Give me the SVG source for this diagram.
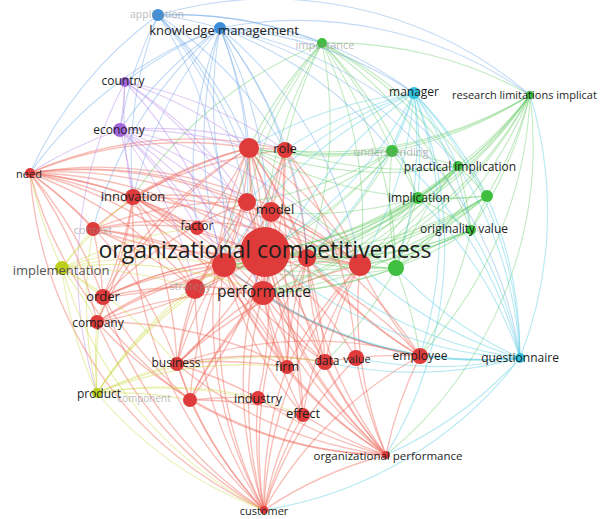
<svg xmlns="http://www.w3.org/2000/svg" width="608" height="519" viewBox="0 0 608 519">
<style>
path{fill:none;stroke-width:1.1;stroke-opacity:0.38}
.r path{stroke:#ef6355;stroke-width:1.35;stroke-opacity:0.42}
.g path{stroke:#5cc95c}
.b path{stroke:#5f9fe4}
.c path{stroke:#3fc6e0}
.p path{stroke:#b07ae6}
.y path{stroke:#c6d42e}
.nr{fill:#df3b3b}
.ng{fill:#3fbf3f}
.nb{fill:#3d8fdb}
.nc{fill:#2ebfdc}
.np{fill:#a266dc}
.ny{fill:#bccf1c}
text{font-family:"Open Sans","Liberation Sans",sans-serif;fill:#1e1e1e;text-anchor:middle;dominant-baseline:central}
.f{fill:#8e8e8e;opacity:0.6}
</style>
<rect width="608" height="519" fill="#ffffff"/>
<g id="connectors">
<g class="r">
<path d="M30 173A400 400 0 0 1 133 197"/><path d="M30 173A400 400 0 0 1 93 229"/><path d="M30 173A400 400 0 0 1 249 148"/><path d="M30 173A400 400 0 0 1 285 150"/><path d="M30 173A400 400 0 0 1 247 202"/><path d="M30 173A400 400 0 0 1 265 252"/><path d="M30 173A400 400 0 0 1 197 228"/><path d="M30 173A400 400 0 0 1 224 265"/><path d="M30 173A400 400 0 0 1 195 289"/><path d="M30 173A400 400 0 0 1 103 297"/><path d="M30 173A400 400 0 0 1 97 322"/><path d="M30 173A400 400 0 0 1 360 265"/><path d="M30 173A400 400 0 0 1 307 258"/><path d="M30 173A400 400 0 0 1 177 364"/><path d="M30 173A400 400 0 0 1 287 367"/><path d="M30 173A400 400 0 0 1 420 356"/><path d="M30 173A400 400 0 0 0 264 510"/><path d="M30 173A400 400 0 0 0 190 400"/>
<path d="M264 510A400 400 0 0 1 177 364"/><path d="M264 510A400 400 0 0 1 190 400"/><path d="M264 510A400 400 0 0 1 258 398"/><path d="M264 510A400 400 0 0 1 303 415"/><path d="M264 510A400 400 0 0 1 265 252"/><path d="M264 510A400 400 0 0 1 224 265"/><path d="M264 510A400 400 0 0 1 263 293"/><path d="M264 510A400 400 0 0 1 103 297"/><path d="M264 510A400 400 0 0 1 97 322"/><path d="M264 510A400 400 0 0 1 287 367"/><path d="M264 510A400 400 0 0 1 325 362"/><path d="M264 510A400 400 0 0 1 356 358"/><path d="M264 510A400 400 0 0 1 420 356"/><path d="M264 510A400 400 0 0 1 386 455"/><path d="M264 510A400 400 0 0 1 360 265"/><path d="M264 510A400 400 0 0 1 195 289"/><path d="M264 510A400 400 0 0 1 249 148"/><path d="M264 510A400 400 0 0 1 133 197"/><path d="M264 510A400 400 0 0 1 307 258"/>
<path d="M386 455A400 400 0 0 1 265 252"/><path d="M386 455A400 400 0 0 1 263 293"/><path d="M386 455A400 400 0 0 1 360 265"/><path d="M386 455A400 400 0 0 1 325 362"/><path d="M386 455A400 400 0 0 1 356 358"/><path d="M386 455A400 400 0 0 1 420 356"/><path d="M386 455A400 400 0 0 1 303 415"/><path d="M386 455A400 400 0 0 1 287 367"/><path d="M386 455A400 400 0 0 1 258 398"/><path d="M386 455A400 400 0 0 1 177 364"/><path d="M386 455A400 400 0 0 1 307 258"/><path d="M386 455A400 400 0 0 1 249 148"/><path d="M386 455A400 400 0 0 1 224 265"/><path d="M386 455A400 400 0 0 1 97 322"/><path d="M386 455A400 400 0 0 1 285 150"/><path d="M386 455A400 400 0 0 1 190 400"/>
<path d="M265 252A400 400 0 0 1 224 265"/><path d="M265 252A400 400 0 0 1 263 293"/><path d="M265 252A400 400 0 0 1 249 148"/><path d="M265 252A400 400 0 0 1 285 150"/><path d="M265 252A400 400 0 0 1 247 202"/><path d="M265 252A400 400 0 0 1 271 212"/><path d="M265 252A400 400 0 0 1 197 228"/><path d="M265 252A400 400 0 0 1 133 197"/><path d="M265 252A400 400 0 0 1 93 229"/><path d="M265 252A400 400 0 0 1 103 297"/><path d="M265 252A400 400 0 0 1 97 322"/><path d="M265 252A400 400 0 0 1 195 289"/><path d="M265 252A400 400 0 0 1 307 258"/><path d="M265 252A400 400 0 0 1 360 265"/><path d="M265 252A400 400 0 0 1 177 364"/><path d="M265 252A400 400 0 0 1 190 400"/><path d="M265 252A400 400 0 0 1 258 398"/><path d="M265 252A400 400 0 0 1 287 367"/><path d="M265 252A400 400 0 0 1 325 362"/><path d="M265 252A400 400 0 0 1 356 358"/><path d="M265 252A400 400 0 0 1 420 356"/><path d="M265 252A400 400 0 0 1 303 415"/>
<path d="M133 197A400 400 0 0 1 249 148"/><path d="M133 197A400 400 0 0 1 247 202"/><path d="M133 197A400 400 0 0 1 224 265"/><path d="M133 197A400 400 0 0 1 263 293"/><path d="M133 197A400 400 0 0 1 195 289"/><path d="M133 197A400 400 0 0 1 103 297"/><path d="M133 197A400 400 0 0 1 97 322"/><path d="M133 197A400 400 0 0 1 177 364"/><path d="M133 197A400 400 0 0 1 307 258"/><path d="M133 197A400 400 0 0 1 360 265"/><path d="M133 197A400 400 0 0 1 287 367"/><path d="M133 197A400 400 0 0 1 285 150"/><path d="M133 197A400 400 0 0 1 325 362"/>
<path d="M93 229A400 400 0 0 1 224 265"/><path d="M93 229A400 400 0 0 1 263 293"/><path d="M93 229A400 400 0 0 1 247 202"/><path d="M93 229A400 400 0 0 1 195 289"/><path d="M93 229A400 400 0 0 1 103 297"/><path d="M93 229A400 400 0 0 1 197 228"/><path d="M93 229A400 400 0 0 1 249 148"/><path d="M93 229A400 400 0 0 1 360 265"/>
<path d="M249 148A400 400 0 0 1 224 265"/><path d="M249 148A400 400 0 0 1 263 293"/><path d="M249 148A400 400 0 0 1 271 212"/><path d="M249 148A400 400 0 0 1 307 258"/><path d="M249 148A400 400 0 0 1 360 265"/><path d="M249 148A400 400 0 0 1 195 289"/><path d="M249 148A400 400 0 0 1 197 228"/><path d="M249 148A400 400 0 0 1 325 362"/><path d="M249 148A400 400 0 0 1 285 150"/><path d="M249 148A400 400 0 0 0 103 297"/>
<path d="M285 150A400 400 0 0 1 224 265"/><path d="M285 150A400 400 0 0 1 263 293"/><path d="M285 150A400 400 0 0 1 307 258"/><path d="M285 150A400 400 0 0 1 360 265"/><path d="M285 150A400 400 0 0 1 271 212"/><path d="M285 150A400 400 0 0 1 356 358"/>
<path d="M247 202A400 400 0 0 1 263 293"/><path d="M247 202A400 400 0 0 1 224 265"/><path d="M247 202A400 400 0 0 1 307 258"/><path d="M247 202A400 400 0 0 1 360 265"/><path d="M247 202A400 400 0 0 1 195 289"/><path d="M247 202A400 400 0 0 0 177 364"/>
<path d="M271 212A400 400 0 0 1 263 293"/><path d="M271 212A400 400 0 0 1 224 265"/><path d="M271 212A400 400 0 0 1 360 265"/><path d="M271 212A400 400 0 0 1 287 367"/>
<path d="M177 364A400 400 0 0 1 224 265"/><path d="M177 364A400 400 0 0 1 263 293"/><path d="M177 364A400 400 0 0 1 195 289"/><path d="M177 364A400 400 0 0 1 287 367"/><path d="M177 364A400 400 0 0 1 325 362"/><path d="M177 364A400 400 0 0 1 258 398"/><path d="M177 364A400 400 0 0 1 190 400"/><path d="M177 364A400 400 0 0 1 420 356"/><path d="M177 364A400 400 0 0 1 360 265"/>
<path d="M190 400A400 400 0 0 1 224 265"/><path d="M190 400A400 400 0 0 1 263 293"/><path d="M190 400A400 400 0 0 1 258 398"/><path d="M190 400A400 400 0 0 1 303 415"/><path d="M190 400A400 400 0 0 1 307 258"/><path d="M190 400A400 400 0 0 1 103 297"/>
<path d="M287 367A400 400 0 0 1 224 265"/><path d="M287 367A400 400 0 0 1 263 293"/><path d="M287 367A400 400 0 0 1 360 265"/><path d="M287 367A400 400 0 0 1 307 258"/>
<path d="M325 362A400 400 0 0 1 224 265"/><path d="M325 362A400 400 0 0 1 263 293"/><path d="M325 362A400 400 0 0 1 360 265"/><path d="M325 362A400 400 0 0 1 307 258"/><path d="M325 362A400 400 0 0 1 420 356"/>
<path d="M420 356A400 400 0 0 1 224 265"/><path d="M420 356A400 400 0 0 1 263 293"/><path d="M420 356A400 400 0 0 1 360 265"/><path d="M420 356A400 400 0 0 1 307 258"/><path d="M420 356A400 400 0 0 1 249 148"/>
<path d="M303 415A400 400 0 0 1 224 265"/><path d="M303 415A400 400 0 0 1 263 293"/><path d="M303 415A400 400 0 0 1 360 265"/><path d="M303 415A400 400 0 0 1 307 258"/>
<path d="M103 297A400 400 0 0 1 224 265"/><path d="M103 297A400 400 0 0 1 263 293"/><path d="M103 297A400 400 0 0 1 307 258"/><path d="M103 297A400 400 0 0 1 360 265"/><path d="M103 297A400 400 0 0 1 247 202"/>
<path d="M97 322A400 400 0 0 1 224 265"/><path d="M97 322A400 400 0 0 1 263 293"/><path d="M97 322A400 400 0 0 1 360 265"/><path d="M97 322A400 400 0 0 1 249 148"/><path d="M97 322A400 400 0 0 1 287 367"/>
</g>
<g class="g">
<path d="M530 95A400 400 0 0 1 487 196"/><path d="M530 95A400 400 0 0 1 458 166"/><path d="M530 95A400 400 0 0 1 471 230"/><path d="M530 95A400 400 0 0 1 418 198"/><path d="M530 95A400 400 0 0 1 392 151"/><path d="M530 95A400 400 0 0 1 396 268"/><path d="M530 95A400 400 0 0 1 265 252"/><path d="M530 95A400 400 0 0 1 360 265"/><path d="M530 95A400 400 0 0 1 307 258"/><path d="M322 43A400 400 0 0 1 530 95"/><path d="M530 95A400 400 0 0 1 285 150"/><path d="M530 95A400 400 0 0 1 249 148"/><path d="M530 95A400 400 0 0 1 420 356"/><path d="M530 95A400 400 0 0 1 386 455"/><path d="M530 95A400 400 0 0 1 224 265"/><path d="M530 95A400 400 0 0 1 263 293"/>
<path d="M322 43A400 400 0 0 1 392 151"/><path d="M322 43A400 400 0 0 1 458 166"/><path d="M322 43A400 400 0 0 1 418 198"/><path d="M322 43A400 400 0 0 1 487 196"/><path d="M322 43A400 400 0 0 1 471 230"/><path d="M322 43A400 400 0 0 1 396 268"/><path d="M322 43A400 400 0 0 0 265 252"/><path d="M322 43A400 400 0 0 0 285 150"/><path d="M322 43A400 400 0 0 0 249 148"/><path d="M322 43A400 400 0 0 0 247 202"/><path d="M322 43A400 400 0 0 1 307 258"/><path d="M322 43A400 400 0 0 1 360 265"/><path d="M322 43A400 400 0 0 0 224 265"/><path d="M322 43A400 400 0 0 0 133 197"/>
<path d="M396 268A400 400 0 0 1 392 151"/><path d="M396 268A400 400 0 0 1 458 166"/><path d="M396 268A400 400 0 0 1 418 198"/><path d="M396 268A400 400 0 0 1 487 196"/><path d="M396 268A400 400 0 0 1 471 230"/><path d="M396 268A400 400 0 0 1 265 252"/><path d="M396 268A400 400 0 0 1 360 265"/><path d="M396 268A400 400 0 0 1 307 258"/><path d="M396 268A400 400 0 0 1 263 293"/><path d="M396 268A400 400 0 0 1 224 265"/><path d="M396 268A400 400 0 0 1 420 356"/><path d="M396 268A400 400 0 0 1 325 362"/><path d="M396 268A400 400 0 0 1 249 148"/>
<path d="M392 151A400 400 0 0 1 265 252"/><path d="M392 151A400 400 0 0 1 249 148"/><path d="M392 151A400 400 0 0 1 285 150"/><path d="M392 151A400 400 0 0 1 271 212"/><path d="M392 151A400 400 0 0 1 458 166"/><path d="M392 151A400 400 0 0 1 418 198"/><path d="M392 151A400 400 0 0 1 247 202"/><path d="M392 151A400 400 0 0 1 224 265"/><path d="M392 151A400 400 0 0 1 263 293"/>
<path d="M458 166A400 400 0 0 1 265 252"/><path d="M458 166A400 400 0 0 1 360 265"/><path d="M458 166A400 400 0 0 1 307 258"/><path d="M458 166A400 400 0 0 1 418 198"/><path d="M458 166A400 400 0 0 1 487 196"/><path d="M458 166A400 400 0 0 1 471 230"/><path d="M458 166A400 400 0 0 1 224 265"/><path d="M458 166A400 400 0 0 1 263 293"/><path d="M458 166A400 400 0 0 1 249 148"/><path d="M458 166A400 400 0 0 1 285 150"/>
<path d="M487 196A400 400 0 0 1 265 252"/><path d="M487 196A400 400 0 0 1 360 265"/><path d="M487 196A400 400 0 0 1 418 198"/><path d="M487 196A400 400 0 0 1 471 230"/><path d="M487 196A400 400 0 0 1 307 258"/><path d="M487 196A400 400 0 0 1 224 265"/><path d="M487 196A400 400 0 0 1 263 293"/><path d="M487 196A400 400 0 0 1 249 148"/>
<path d="M418 198A400 400 0 0 1 265 252"/><path d="M418 198A400 400 0 0 1 360 265"/><path d="M418 198A400 400 0 0 1 471 230"/><path d="M418 198A400 400 0 0 1 307 258"/><path d="M418 198A400 400 0 0 1 224 265"/><path d="M418 198A400 400 0 0 1 263 293"/><path d="M418 198A400 400 0 0 1 271 212"/>
<path d="M471 230A400 400 0 0 1 265 252"/><path d="M471 230A400 400 0 0 1 360 265"/><path d="M471 230A400 400 0 0 1 307 258"/><path d="M471 230A400 400 0 0 1 224 265"/><path d="M471 230A400 400 0 0 1 263 293"/><path d="M471 230A400 400 0 0 1 420 356"/>
</g>
<g class="b">
<path d="M158 15A400 400 0 0 1 220 28"/><path d="M220 28A400 400 0 0 1 249 148"/><path d="M220 28A400 400 0 0 1 285 150"/><path d="M220 28A400 400 0 0 1 247 202"/><path d="M220 28A400 400 0 0 1 265 252"/><path d="M220 28A400 400 0 0 0 125 82"/><path d="M220 28A400 400 0 0 0 120 130"/><path d="M220 28A400 400 0 0 0 133 197"/><path d="M220 28A400 400 0 0 1 414 93"/><path d="M220 28A400 400 0 0 1 322 43"/><path d="M220 28A400 400 0 0 1 360 265"/><path d="M220 28A400 400 0 0 1 307 258"/><path d="M220 28A400 400 0 0 0 197 228"/><path d="M220 28A400 400 0 0 0 224 265"/><path d="M220 28A400 400 0 0 1 392 151"/><path d="M220 28A400 400 0 0 1 530 95"/><path d="M220 28A400 400 0 0 1 520 358"/><path d="M220 28A400 400 0 0 0 30 173"/><path d="M220 28A400 400 0 0 1 458 166"/><path d="M220 28A400 400 0 0 0 263 293"/><path d="M220 28A400 400 0 0 0 93 229"/>
<path d="M158 15A400 400 0 0 1 249 148"/><path d="M158 15A400 400 0 0 1 265 252"/><path d="M158 15A400 400 0 0 1 247 202"/><path d="M158 15A400 400 0 0 0 133 197"/><path d="M158 15A400 400 0 0 1 285 150"/><path d="M158 15A400 400 0 0 1 414 93"/><path d="M158 15A400 400 0 0 1 322 43"/><path d="M158 15A400 400 0 0 1 530 95"/><path d="M158 15A400 400 0 0 1 224 265"/><path d="M158 15A400 400 0 0 0 30 173"/><path d="M158 15A400 400 0 0 0 120 130"/>
</g>
<g class="c">
<path d="M520 358A400 400 0 0 0 414 93"/><path d="M520 358A400 400 0 0 1 265 252"/><path d="M520 358A400 400 0 0 1 360 265"/><path d="M520 358A400 400 0 0 1 420 356"/><path d="M520 358A400 400 0 0 1 396 268"/><path d="M520 358A400 400 0 0 0 471 230"/><path d="M520 358A400 400 0 0 0 487 196"/><path d="M520 358A400 400 0 0 1 325 362"/><path d="M520 358A400 400 0 0 1 356 358"/><path d="M520 358A400 400 0 0 1 386 455"/><path d="M520 358A400 400 0 0 0 392 151"/><path d="M520 358A400 400 0 0 1 263 293"/><path d="M520 358A400 400 0 0 0 458 166"/><path d="M520 358A400 400 0 0 0 418 198"/><path d="M530 95A400 400 0 0 1 520 358"/><path d="M520 358A400 400 0 0 1 264 510"/><path d="M520 358A400 400 0 0 1 307 258"/><path d="M520 358A400 400 0 0 1 224 265"/>
<path d="M414 93A400 400 0 0 1 265 252"/><path d="M414 93A400 400 0 0 1 360 265"/><path d="M414 93A400 400 0 0 1 307 258"/><path d="M414 93A400 400 0 0 0 249 148"/><path d="M414 93A400 400 0 0 0 285 150"/><path d="M414 93A400 400 0 0 1 392 151"/><path d="M414 93A400 400 0 0 1 458 166"/><path d="M414 93A400 400 0 0 1 418 198"/><path d="M414 93A400 400 0 0 1 487 196"/><path d="M414 93A400 400 0 0 1 471 230"/><path d="M414 93A400 400 0 0 1 396 268"/><path d="M414 93A400 400 0 0 1 420 356"/><path d="M414 93A400 400 0 0 0 247 202"/><path d="M414 93A400 400 0 0 0 224 265"/><path d="M414 93A400 400 0 0 1 386 455"/><path d="M414 93A400 400 0 0 0 263 293"/>
</g>
<g class="p">
<path d="M125 82A400 400 0 0 1 120 130"/><path d="M125 82A400 400 0 0 1 265 252"/><path d="M125 82A400 400 0 0 1 249 148"/><path d="M125 82A400 400 0 0 1 247 202"/><path d="M125 82A400 400 0 0 1 224 265"/><path d="M125 82A400 400 0 0 0 133 197"/><path d="M125 82A400 400 0 0 1 285 150"/><path d="M125 82A400 400 0 0 0 97 393"/>
<path d="M120 130A400 400 0 0 1 265 252"/><path d="M120 130A400 400 0 0 1 249 148"/><path d="M120 130A400 400 0 0 1 224 265"/><path d="M120 130A400 400 0 0 1 133 197"/><path d="M120 130A400 400 0 0 1 247 202"/><path d="M120 130A400 400 0 0 1 197 228"/><path d="M120 130A400 400 0 0 1 285 150"/><path d="M120 130A400 400 0 0 1 195 289"/><path d="M120 130A400 400 0 0 0 30 173"/><path d="M120 130A400 400 0 0 1 360 265"/><path d="M120 130A400 400 0 0 1 263 293"/>
</g>
<g class="y">
<path d="M62 268A400 400 0 0 1 93 229"/><path d="M62 268A400 400 0 0 1 103 297"/><path d="M62 268A400 400 0 0 1 97 322"/><path d="M62 268A400 400 0 0 0 97 393"/><path d="M62 268A400 400 0 0 1 265 252"/><path d="M62 268A400 400 0 0 1 224 265"/><path d="M62 268A400 400 0 0 1 195 289"/><path d="M62 268A400 400 0 0 1 133 197"/><path d="M62 268A400 400 0 0 1 30 173"/><path d="M62 268A400 400 0 0 1 197 228"/><path d="M62 268A400 400 0 0 1 177 364"/><path d="M62 268A400 400 0 0 0 264 510"/><path d="M62 268A400 400 0 0 1 263 293"/>
<path d="M97 393A400 400 0 0 1 97 322"/><path d="M97 393A400 400 0 0 1 103 297"/><path d="M97 393A400 400 0 0 1 177 364"/><path d="M97 393A400 400 0 0 1 190 400"/><path d="M97 393A400 400 0 0 1 265 252"/><path d="M97 393A400 400 0 0 1 224 265"/><path d="M97 393A400 400 0 0 1 195 289"/><path d="M97 393A400 400 0 0 1 258 398"/><path d="M97 393A400 400 0 0 1 303 415"/><path d="M97 393A400 400 0 0 0 264 510"/><path d="M97 393A400 400 0 0 1 325 362"/><path d="M97 393A400 400 0 0 1 287 367"/><path d="M97 393A400 400 0 0 1 93 229"/>
</g>
</g>
<g id="node-orgcomp"><circle class="nr" cx="265" cy="252" r="25"/></g>
<g id="node-r-a"><circle class="nr" cx="224" cy="265" r="12"/></g>
<g id="node-performance"><circle class="nr" cx="263" cy="293" r="12"/></g>
<g id="node-r-c"><circle class="nr" cx="249" cy="148" r="10"/></g>
<g id="node-role"><circle class="nr" cx="285" cy="150" r="8"/></g>
<g id="node-r-m1"><circle class="nr" cx="247" cy="202" r="9"/></g>
<g id="node-model"><circle class="nr" cx="271" cy="212" r="10"/></g>
<g id="node-r-d"><circle class="nr" cx="307" cy="258" r="9"/></g>
<g id="node-r-e"><circle class="nr" cx="360" cy="265" r="11"/></g>
<g id="node-strategy"><circle class="nr" cx="195" cy="289" r="10"/></g>
<g id="node-factor"><circle class="nr" cx="197" cy="228" r="7"/></g>
<g id="node-innovation"><circle class="nr" cx="133" cy="197" r="8"/></g>
<g id="node-context"><circle class="nr" cx="93" cy="229" r="7"/></g>
<g id="node-order"><circle class="nr" cx="103" cy="297" r="8"/></g>
<g id="node-company"><circle class="nr" cx="97" cy="322" r="7"/></g>
<g id="node-need"><circle class="nr" cx="30" cy="173" r="5"/></g>
<g id="node-business"><circle class="nr" cx="177" cy="364" r="7"/></g>
<g id="node-r-n"><circle class="nr" cx="190" cy="400" r="7"/></g>
<g id="node-industry"><circle class="nr" cx="258" cy="398" r="7"/></g>
<g id="node-firm"><circle class="nr" cx="287" cy="367" r="7"/></g>
<g id="node-data"><circle class="nr" cx="325" cy="362" r="8"/></g>
<g id="node-value"><circle class="nr" cx="356" cy="358" r="8"/></g>
<g id="node-employee"><circle class="nr" cx="420" cy="356" r="8"/></g>
<g id="node-effect"><circle class="nr" cx="303" cy="415" r="7"/></g>
<g id="node-orgperf"><circle class="nr" cx="386" cy="455" r="4"/></g>
<g id="node-customer"><circle class="nr" cx="264" cy="510" r="4"/></g>
<g id="node-g2"><circle class="ng" cx="396" cy="268" r="8"/></g>
<g id="node-g"><circle class="ng" cx="487" cy="196" r="6"/></g>
<g id="node-practical"><circle class="ng" cx="458" cy="166" r="5"/></g>
<g id="node-implication"><circle class="ng" cx="418" cy="198" r="6"/></g>
<g id="node-originality"><circle class="ng" cx="471" cy="230" r="5"/></g>
<g id="node-understanding"><circle class="ng" cx="392" cy="151" r="6"/></g>
<g id="node-importance"><circle class="ng" cx="322" cy="43" r="5"/></g>
<g id="node-research"><circle class="ng" cx="530" cy="95" r="4"/></g>
<g id="node-km"><circle class="nb" cx="220" cy="28" r="6"/></g>
<g id="node-application"><circle class="nb" cx="158" cy="15" r="6"/></g>
<g id="node-manager"><circle class="nc" cx="414" cy="93" r="6"/></g>
<g id="node-questionnaire"><circle class="nc" cx="520" cy="358" r="5"/></g>
<g id="node-country"><circle class="np" cx="125" cy="82" r="5"/></g>
<g id="node-economy"><circle class="np" cx="120" cy="130" r="7"/></g>
<g id="node-implementation"><circle class="ny" cx="62" cy="268" r="7"/></g>
<g id="node-product"><circle class="ny" cx="97" cy="393" r="5"/></g>
<g id="labels">
<text class="f" x="157" y="14" font-size="10.5">application</text>
<text x="224" y="30" font-size="13">knowledge management</text>
<text class="f" x="325" y="44" font-size="11">importance</text>
<text x="123" y="80" font-size="12">country</text>
<text x="119" y="129" font-size="12">economy</text>
<text x="414" y="91" font-size="12">manager</text>
<text x="452" y="94" font-size="11" style="text-anchor:start">research limitations implicat</text>
<text x="29" y="173" font-size="11">need</text>
<text x="133" y="196" font-size="13">innovation</text>
<text x="285" y="148" font-size="13">role</text>
<text class="f" x="391" y="151" font-size="11">understanding</text>
<text x="460" y="166" font-size="12">practical implication</text>
<text x="419" y="197" font-size="12">implication</text>
<text x="275" y="209" font-size="13">model</text>
<text x="197" y="225" font-size="12">factor</text>
<text class="f" x="93" y="229" font-size="11">context</text>
<text x="464" y="228" font-size="12">originality value</text>
<text x="265" y="249" font-size="23">organizational competitiveness</text>
<text x="61" y="270" font-size="13" style="fill:#555">implementation</text>
<text class="f" x="190" y="285" font-size="11">strategy</text>
<text x="264" y="291" font-size="15.5">performance</text>
<text x="103" y="296" font-size="13">order</text>
<text x="98" y="322" font-size="12">company</text>
<text x="176" y="362" font-size="12">business</text>
<text x="99" y="393" font-size="12">product</text>
<text class="f" x="144" y="398" font-size="10">component</text>
<text x="258" y="398" font-size="12.5">industry</text>
<text x="287" y="366" font-size="12.5">firm</text>
<text x="327" y="360" font-size="12">data</text>
<text x="357" y="358" font-size="11">value</text>
<text x="420" y="355" font-size="12">employee</text>
<text x="520" y="357" font-size="12">questionnaire</text>
<text x="303" y="413" font-size="13">effect</text>
<text x="388" y="455" font-size="11.5">organizational performance</text>
<text x="264" y="510" font-size="11">customer</text>
</g>
</svg>
